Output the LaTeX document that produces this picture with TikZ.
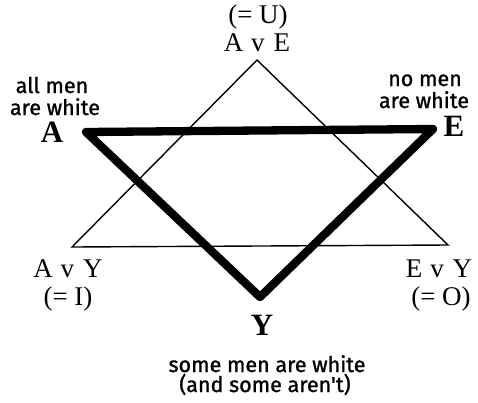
\documentclass[tikz,border=0pt]{standalone}
\usepackage{fontspec}
\setmainfont{Liberation Serif}
\newfontfamily\lbl[FakeBold=1.2]{Fira Sans}
\newcommand{\orsym}[2]{#1\hspace{8pt}v\hspace{9pt}#2}
\begin{document}
\begin{tikzpicture}[x=1pt,y=-1pt,
  caps/.style={font=\fontsize{27}{29}\selectfont, inner sep=0pt, anchor=base},
  bigcap/.style={font=\fontsize{31}{33}\selectfont\bfseries, inner sep=0pt, anchor=base},
  words/.style={font=\lbl\fontsize{21.5}{22}\selectfont, inner sep=0pt, anchor=base},
  thin/.style={line width=1.4pt, line join=miter},
  thick/.style={line width=8.3pt, line join=round, line cap=round}]
\useasboundingbox (0,0) rectangle (478,402);
% thin triangle vertices
\coordinate (AE) at (257,60);
\coordinate (AY) at (72,247);
\coordinate (EY) at (448,245);
% thick triangle vertices
\coordinate (A) at (86,132);
\coordinate (E) at (433,129);
\coordinate (Y) at (260,297);
\draw[thin] (AE) -- (AY) -- (EY) -- cycle;
\draw[thick] (A) -- (E) -- (Y) -- cycle;
% labels
\node[caps] (u) at (258,23) {(= U)};
\node[caps] (ave) at (257,51) {\orsym{A}{E}};
\node[words] (allmen1) at (52,93) {all men};
\node[words] (allmen2) at (55,115) {are white};
\node[bigcap] (lA) at (52,142) {A};
\node[words] (nomen1) at (425,86) {no men};
\node[words] (nomen2) at (424,108) {are white};
\node[bigcap] (lE) at (454,136) {E};
\node[caps] (avy) at (68,277) {\orsym{A}{Y}};
\node[caps] (i) at (68,305) {(= I)};
\node[caps] (evy) at (439,277) {\orsym{E}{Y}};
\node[caps] (o) at (441,305) {(= O)};
\node[bigcap] (lY) at (262,335) {Y};
\node[words] (some1) at (267,372) {some men are white};
\node[words] (some2) at (265,392) {(and some aren't)};
\end{tikzpicture}
\end{document}
